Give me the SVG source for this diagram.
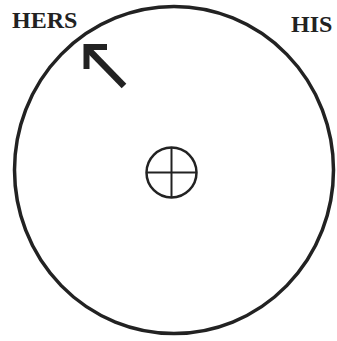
<svg xmlns="http://www.w3.org/2000/svg" width="337" height="341" viewBox="0 0 337 341">
<style>
.lbl{font-family:"Liberation Serif","Times New Roman",serif;font-weight:bold;font-size:24px;fill:#222}
.ln{fill:none;stroke:#222}
</style>
<rect width="337" height="341" fill="#fff"/>
<g id="outer"><ellipse class="ln" cx="174" cy="170" rx="159.5" ry="163.5" stroke-width="3.5"/></g>
<g id="center">
<circle class="ln" cx="171.5" cy="172.5" r="25" stroke-width="2.5"/>
<line class="ln" x1="171.5" y1="147.5" x2="171.5" y2="197.5" stroke-width="2"/>
<line class="ln" x1="146.5" y1="172.5" x2="196.5" y2="172.5" stroke-width="2"/>
</g>
<g id="arrow">
<polyline class="ln" points="107,47 86.5,47 86.5,69" stroke-width="6" stroke-linejoin="miter"/>
<line class="ln" x1="88" y1="49" x2="124" y2="86" stroke-width="6.5"/>
</g>
<g id="labels">
<text class="lbl" x="12" y="28">HERS</text>
<text class="lbl" x="291" y="32">HIS</text>
</g>
</svg>
